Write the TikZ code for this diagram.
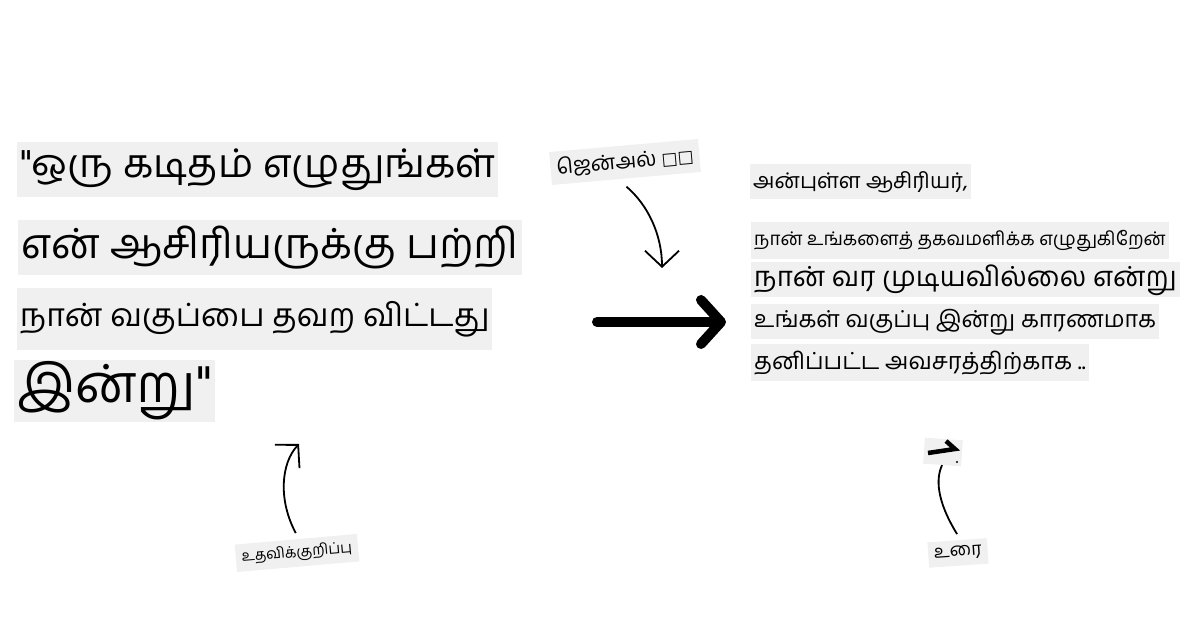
\documentclass[tikz,border=0pt]{standalone}
\usepackage{fontspec}
\newfontfamily\tamil[Script=Tamil]{Hind Madurai}
\newfontfamily\symb{DejaVu Sans}
\newcommand{\tsize}[1]{\fontsize{#1}{#1}\selectfont}
\usetikzlibrary{arrows.meta,positioning}

\begin{document}
\begin{tikzpicture}[
    x=1pt, y=1pt,
    every node/.style={inner sep=0pt},
    chip/.style={fill=black!6, anchor=west, inner xsep=3pt, font=\tamil},
    note/.style={fill=black!6, inner xsep=6pt, inner ysep=6pt},
    curl/.style={line width=1.8pt, -{Straight Barb[length=16pt,width=34pt]}}
]
\useasboundingbox (0,0) rectangle (1200,628);

% prompt, left
\node[chip, minimum height=55pt, font={\tamil\tsize{39.5}}] (ask1) at (17,458) {"ஒரு கடிதம் எழுதுங்கள்};
\node[chip, minimum height=55pt, font={\tamil\tsize{41.5}}] (ask2) at (18,380) {என் ஆசிரியருக்கு பற்றி};
\node[chip, minimum height=62pt, font={\tamil\tsize{32}}] (ask3) at (17,309) {நான் வகுப்பை தவற விட்டது};
\node[chip, minimum height=62pt, font={\tamil\tsize{52.5}}] (ask4) at (14,237) {இன்று"};

% answer, right
\node[chip, minimum height=35pt, font={\tamil\tsize{21.6}}] (txt1) at (750,446) {அன்புள்ள ஆசிரியர்,};
\node[chip, minimum height=37pt, font={\tamil\tsize{18.8}}] (txt2) at (751,387) {நான் உங்களைத் தகவமளிக்க எழுதுகிறேன்};
\node[chip, minimum height=35pt, font={\tamil\tsize{27.6}}] (txt3) at (751,348) {நான் வர முடியவில்லை என்று};
\node[chip, minimum height=35pt, font={\tamil\tsize{23.3}}] (txt4) at (751,306) {உங்கள் வகுப்பு இன்று காரணமாக};
\node[chip, minimum height=37pt, font={\tamil\tsize{23.5}}] (txt5) at (751,265) {தனிப்பட்ட அவசரத்திற்காக ..};

% big arrow
\coordinate (push) at (597,306);
\coordinate (land) at (726,306);
\draw[line width=10pt, line cap=round, -{Straight Barb[length=20pt,width=44pt,round]}] (push) -- (land);

% labels
\node[note, rotate=5, font={\tamil\tsize{21}}] (gen) at (625,466) {ஜென்அல் {\symb\tsize{17}□□}};
\coordinate (genend) at (662,360);
\draw[curl] ([yshift=-8pt]gen.south) .. controls (648,423) and (662,393) .. (genend);

\node[note, rotate=5, font={\tamil\tsize{15}}] (help) at (297,75) {உதவிக்குறிப்பு};
\coordinate (helpend) at (299,184);
\draw[curl] ([yshift=6pt]help.north) .. controls (278,128) and (281,165) .. (helpend);

\node[note, rotate=4, font={\tamil\tsize{18}}] (urai) at (958,75) {உரை};
\node[fill=black!6, rotate=-4, minimum width=38pt, minimum height=26pt] (stub) at (943,176) {};
\draw[line width=4.5pt] (928,175) -- (955,179) -- (946,187);
\fill (957,166) circle (1.2pt);
\draw[line width=1.8pt] ([yshift=6pt]urai.north) .. controls (936,128) and (936,150) .. (stub.south);
\end{tikzpicture}
\end{document}
